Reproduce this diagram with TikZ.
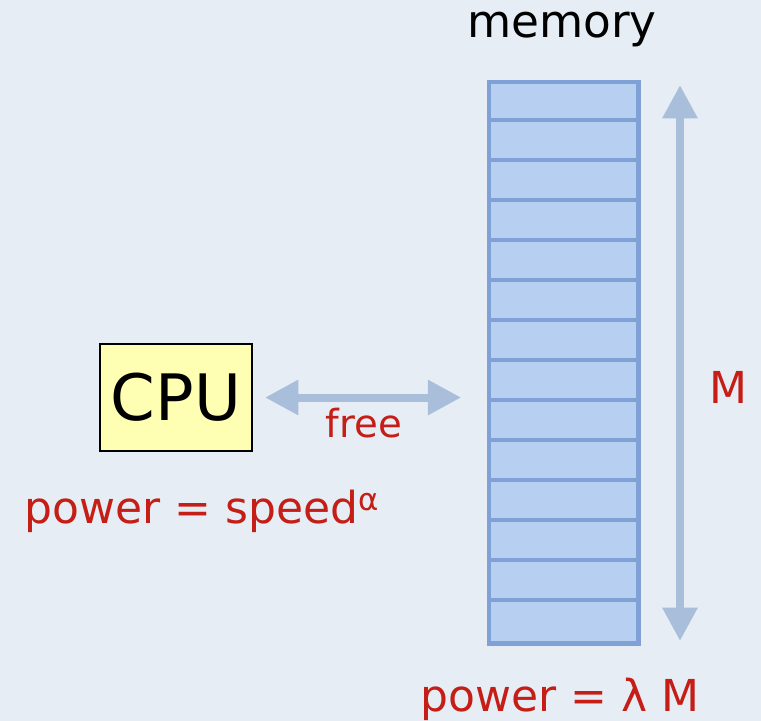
\documentclass[tikz,border=0pt]{standalone}
\usepackage{fontspec}
\setmainfont{DejaVu Sans}
\usetikzlibrary{arrows.meta}
\definecolor{paper}{HTML}{E7EDF4}
\definecolor{cellfill}{HTML}{B7CFF1}
\definecolor{cellline}{HTML}{7FA1D5}
\definecolor{arrowblue}{HTML}{A8BEDB}
\definecolor{labelred}{HTML}{C41E16}
\definecolor{cpufill}{HTML}{FFFFB4}
\tikzset{
  link/.style={arrowblue,line width=6pt,{Triangle[width=25pt,length=25pt]}-{Triangle[width=25pt,length=25pt]}},
  redlabel/.style={labelred,font=\fontsize{33}{36}\selectfont}
}
\begin{document}
\begin{tikzpicture}[x=0.75pt,y=-0.75pt]
\fill[paper] (0,0) rectangle (761,721);
\useasboundingbox (0,0) rectangle (761,721);

\node[black,font=\fontsize{34}{38}\selectfont] (memlabel) at (562,30) {memory};

% memory block, 14 cells
\node[draw=cellline,line width=3.5pt,fill=cellfill,minimum width=112pt,minimum height=421pt,inner sep=0pt] (mem) at (563.5,362.5) {};
\foreach \i in {1,...,13}
  \draw[cellline,line width=3pt] ([yshift=-\i*30.05pt]mem.north west) -- ([yshift=-\i*30.05pt]mem.north east);

\node[draw=black,line width=1.5pt,fill=cpufill,minimum width=114pt,minimum height=80pt,font=\fontsize{48}{52}\selectfont] (cpu) at (176,397.5) {CPU};

\coordinate (mtop) at (680,85);
\coordinate (mbot) at (680,641);
\draw[link] (mtop) -- (mbot);
\node[redlabel] (mlabel) at (728,387) {M};

\draw[link,shorten <=9pt,shorten >=19pt] (cpu.east) -- (cpu.east -| mem.west);
\node[labelred,font=\fontsize{29}{32}\selectfont] (free) at (364,423) {free};

\node[redlabel,anchor=base west] (cpupower) at (20,523) {power = speed\textsuperscript{α}};
\node[redlabel,anchor=base west] (mempower) at (416,711) {power = λ M};
\end{tikzpicture}
\end{document}
